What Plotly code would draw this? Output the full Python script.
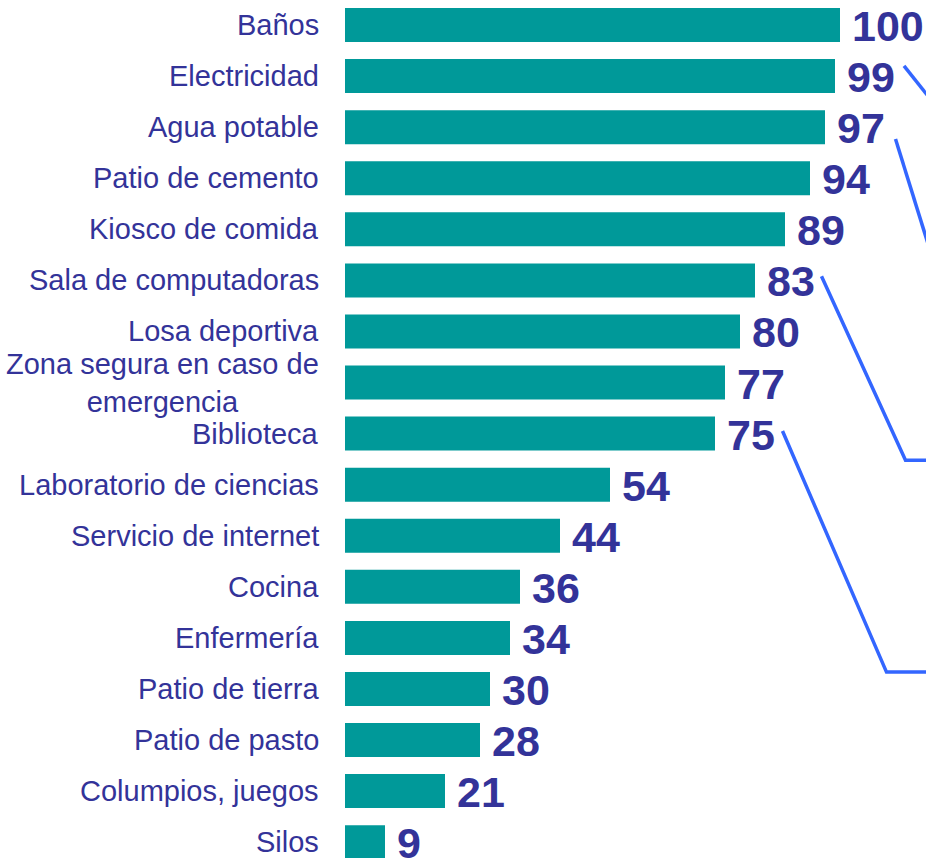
import plotly.graph_objects as go

categories = ["Baños", "Electricidad", "Agua potable", "Patio de cemento", "Kiosco de comida",
              "Sala de computadoras", "Losa deportiva", "Zona segura en caso de<br>emergencia",
              "Biblioteca", "Laboratorio de ciencias", "Servicio de internet", "Cocina",
              "Enfermería", "Patio de tierra", "Patio de pasto", "Columpios, juegos", "Silos"]
values = [100, 99, 97, 94, 89, 83, 80, 77, 75, 54, 44, 36, 34, 30, 28, 21, 9]

BAR = "#009999"
TXT = "#333399"
LINE = "#3366ff"

fig = go.Figure()
fig.add_trace(go.Bar(
    x=values, y=categories, orientation="h",
    marker=dict(color=BAR, line=dict(width=0)),
    hoverinfo="skip",
))

annotations = []
for c, v in zip(categories, values):
    annotations.append(dict(
        x=0, xref="paper", y=c, yref="y", xanchor="right", yanchor="middle",
        xshift=-24, text=c, showarrow=False, align="center",
        font=dict(family="Liberation Sans, Arial", size=29, color=TXT)))
    annotations.append(dict(
        x=v, xref="x", y=c, yref="y", xanchor="left", yanchor="middle",
        xshift=10, yshift=-1, text="<b>%d</b>" % v, showarrow=False,
        font=dict(family="Liberation Sans, Arial", size=43, color=TXT)))

# decorative callout connector lines (data units: value axis, category index)
callouts = [
    [(112.8, 0.80), (122, 1.93)],
    [(111.1, 2.23), (122, 5.67)],
    [(96.3, 4.92), (113.1, 8.52), (122, 8.52)],
    [(88.5, 7.95), (109.3, 12.67), (122, 12.67)],
]
shapes = []
for pts in callouts:
    path = "M " + " L ".join("%g,%g" % p for p in pts)
    shapes.append(dict(type="path", path=path, xref="x", yref="y",
                       line=dict(color=LINE, width=3.5), layer="above"))

fig.update_layout(
    width=926, height=858,
    margin=dict(l=345, r=0, t=0, b=0),
    paper_bgcolor="white", plot_bgcolor="white",
    showlegend=False, bargap=0.334,
    xaxis=dict(range=[1, 117.2], visible=False, fixedrange=True),
    yaxis=dict(categoryorder="array", categoryarray=categories,
               range=[16.31, -0.49], showticklabels=False, showgrid=False,
               zeroline=False, showline=False, ticks="", fixedrange=True),
    annotations=annotations, shapes=shapes,
)

fig.write_html("out.html", config={"displayModeBar": False},
               post_script="document.body.style.margin='0';document.body.style.overflow='hidden';")
